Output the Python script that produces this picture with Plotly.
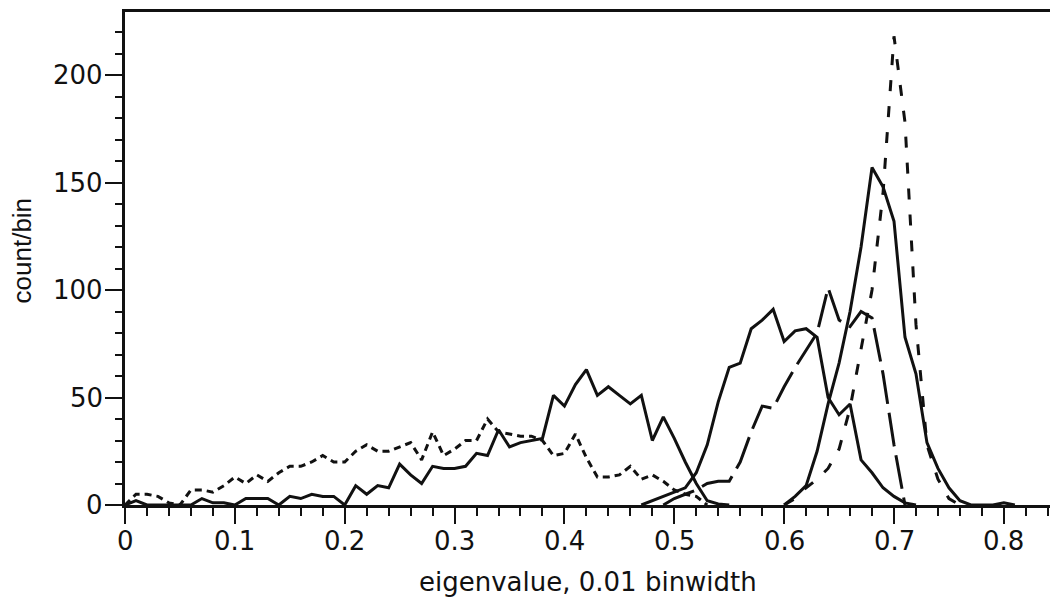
import numpy as np
import plotly.graph_objects as go

BIN_WIDTH = 0.01

# --- histogram data: first bin index and counts per 0.01 bin ---
s1_first_bin = 0   # short-dashed, broad low distribution
s1_counts = [0, 5, 5, 4, 1, 0, 7, 7, 6, 9,
             13, 10, 14, 11, 15, 18, 18, 20, 23, 20,
             20, 25, 28, 25, 25, 27, 29, 21, 34, 23,
             26, 30, 30, 40, 34, 33, 32, 32, 30, 23,
             24, 33, 22, 13, 13, 14, 18, 12, 14, 11,
             7, 5, 4, 0]

s2_first_bin = 0   # solid, peak near 0.42
s2_counts = [0, 2, 0, 0, 0, 0, 0, 3, 1, 1,
             0, 3, 3, 3, 0, 4, 3, 5, 4, 4,
             0, 9, 5, 9, 8, 19, 14, 10, 18, 17,
             17, 18, 24, 23, 35, 27, 29, 30, 31, 51,
             46, 56, 63, 51, 55, 51, 47, 51, 30, 41,
             31, 20, 10, 2, 0.5, 0]

s3_first_bin = 47  # solid, peak near 0.59
s3_counts = [0, 2, 4, 6, 8, 15, 28, 48, 64, 66,
             82, 86, 91, 76, 81, 82, 78, 50, 42, 47,
             21, 15, 8, 4, 1, 0]

s4_first_bin = 49  # long-dashed, peak near 0.64
s4_counts = [0, 3, 5, 7, 10, 11, 11, 20, 34, 46,
             45, 55, 64, 72, 80, 101, 86, 83, 90, 87,
             61, 28, 0]

s5_first_bin = 60  # solid, peak near 0.68
s5_counts = [0, 4, 9, 25, 47, 66, 90, 120, 157, 148,
             132, 78, 61, 29, 17, 8, 2, 0, 0, 0,
             1, 0]

s6_first_bin = 60  # medium-dashed, peak near 0.70
s6_counts = [0, 3, 8, 12, 17, 26, 45, 73, 100, 145,
             218, 178, 84, 28, 12, 3, 0]

series = [
    (s1_first_bin, s1_counts, "7px,5px"),
    (s2_first_bin, s2_counts, "solid"),
    (s3_first_bin, s3_counts, "solid"),
    (s4_first_bin, s4_counts, "34px,9px"),
    (s5_first_bin, s5_counts, "solid"),
    (s6_first_bin, s6_counts, "11px,15px"),
]

x_ticks = [0, 0.1, 0.2, 0.3, 0.4, 0.5, 0.6, 0.7, 0.8]
x_tick_text = ["0", "0.1", "0.2", "0.3", "0.4", "0.5", "0.6", "0.7", "0.8"]
y_ticks = [0, 50, 100, 150, 200]
y_tick_text = ["0", "50", "100", "150", "200"]

INK = "#111111"
fig = go.Figure()
for first, counts, dash in series:
    xs = (first + np.arange(len(counts))) * BIN_WIDTH
    fig.add_trace(go.Scatter(
        x=xs, y=counts, mode="lines",
        line=dict(color=INK, width=3, dash=dash),
        showlegend=False, hoverinfo="skip",
    ))

label_font = dict(family="DejaVu Sans, Arial, sans-serif", size=26, color=INK)

annotations = []
# tick labels placed just below / left of the tick marks
for v, t in zip(x_ticks, x_tick_text):
    annotations.append(dict(text=t, xref="x", yref="paper", x=v, y=-0.074,
                            xanchor="center", yanchor="middle",
                            showarrow=False, font=label_font))
for v, t in zip(y_ticks, y_tick_text):
    annotations.append(dict(text=t, xref="paper", yref="y", x=-0.0216, y=v,
                            xanchor="right", yanchor="middle",
                            showarrow=False, font=label_font))
annotations.append(dict(text="eigenvalue, 0.01 binwidth", xref="paper", yref="paper",
                        x=0.5, y=-0.156, xanchor="center", yanchor="middle",
                        showarrow=False, font=label_font))
annotations.append(dict(text="count/bin", xref="paper", yref="paper",
                        x=-0.111, y=0.517, xanchor="center", yanchor="middle",
                        textangle=-90, showarrow=False,
                        font=dict(family="Liberation Sans, Arial, sans-serif",
                                  size=26, color=INK)))

fig.update_layout(
    width=1050, height=600,
    margin=dict(l=125, r=0, t=12, b=95),
    paper_bgcolor="white", plot_bgcolor="white",
    showlegend=False,
    xaxis=dict(
        range=[0, 0.842],
        tickmode="array", tickvals=x_ticks, showticklabels=False,
        ticks="outside", ticklen=16, tickwidth=2, tickcolor=INK,
        minor=dict(ticks="outside", dtick=0.02, tick0=0, ticklen=8,
                   tickwidth=2, tickcolor=INK, showgrid=False),
        showline=True, linecolor=INK, linewidth=2.5, mirror=True,
        showgrid=False, zeroline=False,
    ),
    yaxis=dict(
        range=[0, 229.3],
        tickmode="array", tickvals=y_ticks, showticklabels=False,
        ticks="outside", ticklen=17, tickwidth=2, tickcolor=INK,
        minor=dict(ticks="outside", dtick=10, tick0=0, ticklen=7,
                   tickwidth=2, tickcolor=INK, showgrid=False),
        showline=True, linecolor=INK, linewidth=2.5, mirror=False,
        showgrid=False, zeroline=False,
    ),
    annotations=annotations,
)

fig.write_html("out.html")
